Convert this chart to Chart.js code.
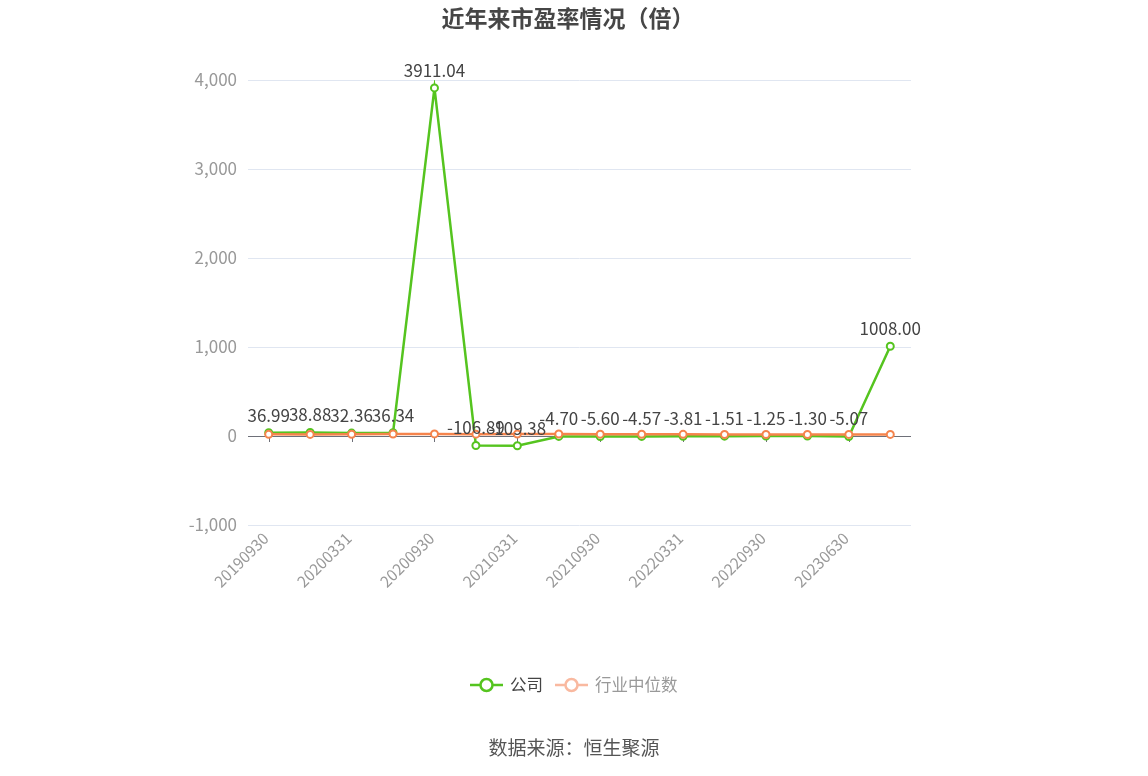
<!DOCTYPE html>
<html lang="zh">
<head>
  <meta charset="UTF-8">
  <title>近年来市盈率情况（倍）</title>
  <script src="https://cdn.jsdelivr.net/npm/chart.js@4.4.1/dist/chart.umd.min.js"></script>
  <style>
    * { margin: 0; padding: 0; box-sizing: border-box; }
    body { background: #fff; width: 1148px; height: 776px; overflow: hidden; }
    .wrap { position: relative; width: 1148px; height: 776px; }
  </style>
</head>
<body>
  <div class="wrap"><canvas id="peChart" width="1148" height="776"></canvas></div>

  <script>
    const FONT = "'Noto Sans CJK SC', 'Noto Sans', sans-serif";

    const categories = ['20190930', '20191231', '20200331', '20200630', '20200930', '20201231',
      '20210331', '20210630', '20210930', '20211231', '20220331', '20220630',
      '20220930', '20230331', '20230630', '20230930'];
    const companyPE = [36.99, 38.88, 32.36, 36.34, 3911.04, -106.89, -109.38, -4.70,
      -5.60, -4.57, -3.81, -1.51, -1.25, -1.30, -5.07, 1008.00];
    const industryPE = [18.5, 17.9, 19.6, 22.1, 23.5, 20.8, 21.4, 22.0,
      20.6, 19.8, 18.7, 17.2, 16.4, 17.0, 18.1, 17.6];
    const yTicks = [-1000, 0, 1000, 2000, 3000, 4000];

    const GREEN = '#55c41f';
    const ORANGE = '#f5844c';

    // labels above company points, title, legend and source
    const decor = {
      id: 'decor',
      beforeDatasetsDraw(chart) {
        const { ctx, scales: { x, y } } = chart;
        const y0 = y.getPixelForValue(0);
        ctx.save();
        ctx.strokeStyle = '#6e7079';
        ctx.lineWidth = 1;
        categories.forEach((c, i) => {
          if (i % 2) return;
          const px = Math.round(x.getPixelForValue(i)) + 0.5;
          ctx.beginPath();
          ctx.moveTo(px, y0);
          ctx.lineTo(px, y0 + 6);
          ctx.stroke();
        });
        ctx.restore();
      },
      afterDatasetsDraw(chart) {
        const { ctx } = chart;
        const meta = chart.getDatasetMeta(1);
        ctx.save();
        ctx.font = '17px ' + FONT;
        ctx.fillStyle = '#444';
        ctx.textAlign = 'center';
        ctx.textBaseline = 'bottom';
        meta.data.forEach((pt, i) => {
          ctx.fillText(companyPE[i].toFixed(2), pt.x, pt.y - 9);
        });
        ctx.restore();
      },
      afterDraw(chart) {
        const { ctx } = chart;
        ctx.save();
        ctx.textAlign = 'center';
        ctx.textBaseline = 'middle';
        ctx.font = 'bold 23px ' + FONT;
        ctx.fillStyle = '#464646';
        ctx.fillText('近年来市盈率情况（倍）', 568, 18);

        // legend
        const items = [
          { x: 470, text: '公司', color: GREEN, tc: '#444' },
          { x: 555, text: '行业中位数', color: '#f9b9a0', tc: '#999' }
        ];
        ctx.textAlign = 'left';
        ctx.font = '16.5px ' + FONT;
        items.forEach(it => {
          ctx.strokeStyle = it.color;
          ctx.lineWidth = 2.5;
          ctx.beginPath();
          ctx.moveTo(it.x, 685);
          ctx.lineTo(it.x + 33, 685);
          ctx.stroke();
          ctx.beginPath();
          ctx.arc(it.x + 16.5, 685, 6, 0, Math.PI * 2);
          ctx.fillStyle = '#fff';
          ctx.fill();
          ctx.stroke();
          ctx.fillStyle = it.tc;
          ctx.fillText(it.text, it.x + 40, 685);
        });

        ctx.textAlign = 'center';
        ctx.font = '19px ' + FONT;
        ctx.fillStyle = '#555';
        ctx.fillText('数据来源：恒生聚源', 574, 748);
        ctx.restore();
      }
    };

    new Chart(document.getElementById('peChart'), {
      type: 'line',
      data: {
        labels: categories,
        datasets: [
          {
            label: '行业中位数',
            data: industryPE,
            borderColor: ORANGE,
            backgroundColor: '#fff',
            borderWidth: 2.5,
            pointRadius: 3.5,
            pointBorderWidth: 2,
            pointBackgroundColor: '#fff',
            pointBorderColor: ORANGE,
            tension: 0,
            order: 0
          },
          {
            label: '公司',
            data: companyPE,
            borderColor: GREEN,
            backgroundColor: '#fff',
            borderWidth: 2.5,
            pointRadius: 3.5,
            pointBorderWidth: 2,
            pointBackgroundColor: '#fff',
            pointBorderColor: GREEN,
            tension: 0,
            order: 1
          }
        ]
      },
      options: {
        responsive: false,
        animation: false,
        devicePixelRatio: 1,
        layout: { padding: { top: 80, right: 237, bottom: 181, left: 0 } },
        plugins: {
          legend: { display: false },
          title: { display: false },
          tooltip: { enabled: false }
        },
        scales: {
          x: {
            offset: true,
            border: { display: false },
            grid: { display: false, drawTicks: false },
            afterFit(scale) { scale.height = 70; },
            ticks: {
              autoSkip: false,
              minRotation: 45,
              maxRotation: 45,
              padding: 4,
              labelOffset: -3,
              color: '#999',
              font: { size: 15.5, family: FONT },
              callback(v, i) { return i % 2 === 0 ? categories[i] : ''; }
            }
          },
          y: {
            min: -1000,
            max: 4000,
            border: { display: false },
            afterFit(scale) { scale.width = 248; },
            afterBuildTicks(scale) { scale.ticks = yTicks.map(v => ({ value: v })); },
            grid: {
              drawTicks: false,
              lineWidth: 1,
              color: ctx => (ctx.tick && ctx.tick.value === 0 ? '#6e7079' : '#e0e6f1')
            },
            ticks: {
              padding: 11,
              color: '#999',
              font: { size: 17, family: FONT },
              callback: v => v.toLocaleString('en-US')
            }
          }
        }
      },
      plugins: [decor]
    });
  </script>
</body>
</html>
